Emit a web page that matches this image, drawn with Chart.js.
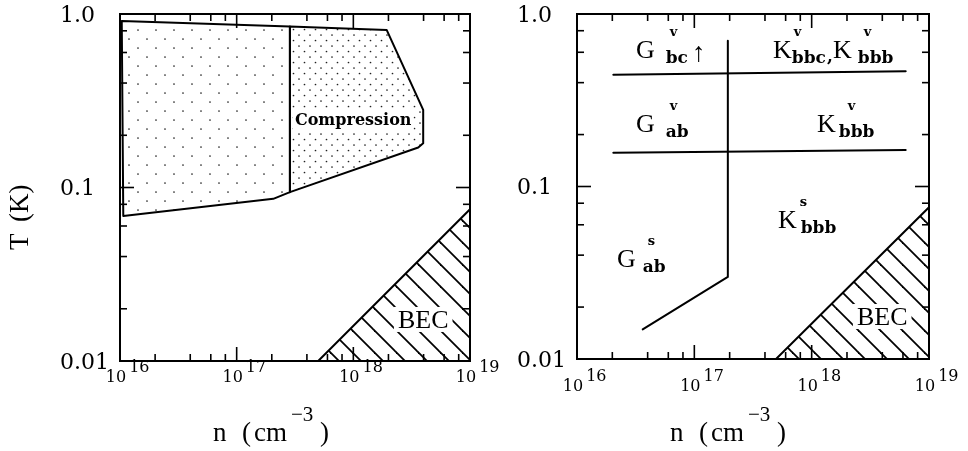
<!DOCTYPE html>
<html><head><meta charset="utf-8">
<script src="https://cdn.jsdelivr.net/npm/chart.js@4.4.1/dist/chart.umd.min.js"></script>
<style>
html,body{margin:0;padding:0;background:#fff;}
#wrap{position:relative;width:968px;height:451px;overflow:hidden;background:#fff;}
#c1{position:absolute;left:0;top:0;}
#c2{position:absolute;left:484px;top:0;}
</style></head><body>
<div id="wrap"><canvas id="c1" width="520" height="451"></canvas><canvas id="c2" width="484" height="451"></canvas></div>
<script>
// ---- axes / ticks ----
const xTickValues = [1e16, 1e17, 1e18, 1e19];
const xTickExponents = ['16', '17', '18', '19'];
const yTickValues = [1, 0.1, 0.01];
const yTickLabels = ['1.0', '0.1', '0.01'];
const minorSteps = [2, 4, 6, 8];

// ---- left panel regions (n, T) ----
const sparseRegion = [[1.035e16, 0.91], [2.86e17, 0.847], [2.86e17, 0.094], [2.06e17, 0.086], [1.067e16, 0.0685], [1.035e16, 0.91]];
const compressionRegion = [[2.86e17, 0.847], [1.93e18, 0.81], [3.97e18, 0.28], [3.97e18, 0.18], [3.6e18, 0.17], [2.86e17, 0.094], [2.86e17, 0.847]];
const becLeft = [[5.0e17, 0.01], [1e19, 0.0749], [1e19, 0.01], [5.0e17, 0.01]];

// ---- right panel boundaries (n, T) ----
const boundaryUpper = [[2.04e16, 0.445], [6.33e18, 0.466]];
const boundaryLower = [[2.04e16, 0.157], [6.33e18, 0.163]];
const boundarySplit = [[1.93e17, 0.70], [1.93e17, 0.0299], [3.63e16, 0.01486]];
const becRight = [[4.97e17, 0.01], [1e19, 0.0758], [1e19, 0.01], [4.97e17, 0.01]];

// ---- region labels (anchored in data coordinates) ----
const leftLabels = [
  {main: 'Compression', n: 3.16e17, T: 0.229, kind: 'bold', box: 2},
  {main: 'BEC', n: 2.41e18, T: 0.0155, box: 4}
];
const rightLabels = [
  {main: 'G', sup: 'v', sub: 'bc', n: 3.18e16, T: 0.556, subDx: 11, supDx: 15},
  {main: '\u2191', n: 9.55e16, T: 0.534, kind: 'arrow'},
  {main: 'K', sup: 'v', sub: 'bbc', n: 4.68e17, T: 0.556, subDx: 0, supDx: 2},
  {main: ',', n: 1.35e18, T: 0.527, kind: 'comma'},
  {main: 'K', sup: 'v', sub: 'bbb', n: 1.52e18, T: 0.556, subDx: 6, supDx: 12},
  {main: 'G', sup: 'v', sub: 'ab', n: 3.18e16, T: 0.207, subDx: 11, supDx: 15},
  {main: 'K', sup: 'v', sub: 'bbb', n: 1.11e18, T: 0.207, subDx: 3, supDx: 12},
  {main: 'G', sup: 's', sub: 'ab', n: 2.19e16, T: 0.0341, subDx: 7, supDx: 12},
  {main: 'K', sup: 's', sub: 'bbb', n: 5.16e17, T: 0.0575, subDx: 4, supDx: 3},
  {main: 'BEC', n: 2.43e18, T: 0.01574, box: 4}
];

const toXY = arr => arr.map(p => ({x: p[0], y: p[1]}));

function dotPattern(size, dots, r, color) {
  const c = document.createElement('canvas'); c.width = size; c.height = size;
  const g = c.getContext('2d'); g.fillStyle = color;
  dots.forEach(d => { g.beginPath(); g.arc(d[0], d[1], r, 0, Math.PI * 2); g.fill(); });
  return g.createPattern(c, 'repeat');
}
function hatchPattern(size, lw) {
  const c = document.createElement('canvas'); c.width = size; c.height = size;
  const g = c.getContext('2d'); g.strokeStyle = '#000'; g.lineWidth = lw;
  for (let k = -1; k <= 1; k++) {
    g.beginPath(); g.moveTo(k * size - 1, -1); g.lineTo(k * size + size + 1, size + 1); g.stroke();
  }
  return g.createPattern(c, 'repeat');
}
const sparseFill = dotPattern(18, [[3, 3], [12, 12]], 0.85, '#222');
const denseFill = dotPattern(11, [[2, 2], [7.5, 7.5]], 0.85, '#222');
const hatchFill = hatchPattern(22, 1.8);

const MAIN_FONT = '26px "Liberation Serif"';
const SUB_FONT = 'bold 17px "DejaVu Serif"';
const SUP_FONT = 'bold 13px "DejaVu Serif"';

function drawLabel(ctx, l, x, y) {
  ctx.fillStyle = '#000';
  ctx.textAlign = 'left'; ctx.textBaseline = 'alphabetic';
  let font = MAIN_FONT;
  if (l.kind === 'bold') font = 'bold 16px "DejaVu Serif"';
  if (l.kind === 'arrow') font = '27px "Liberation Serif"';
  if (l.kind === 'comma') font = SUB_FONT;
  ctx.font = font;
  const w = ctx.measureText(l.main).width;
  if (l.box) {
    const m = ctx.measureText(l.main);
    const asc = m.actualBoundingBoxAscent, desc = m.actualBoundingBoxDescent;
    ctx.fillStyle = '#fff';
    ctx.fillRect(x - l.box, y - asc - l.box, w + 2 * l.box, asc + desc + 2 * l.box);
    ctx.fillStyle = '#000';
  }
  ctx.fillText(l.main, x, y);
  if (l.sub) { ctx.font = SUB_FONT; ctx.fillText(l.sub, x + w + l.subDx, y + 5); }
  if (l.sup) { ctx.font = SUP_FONT; ctx.fillText(l.sup, x + w + l.supDx, y - 22); }
}

function decorPlugin(cfg) {
  return {
    id: 'decor',
    afterDatasetsDraw(chart) {
      const ctx = chart.ctx, a = chart.chartArea;
      const xs = chart.scales.x, ys = chart.scales.y;
      ctx.save();
      cfg.labels.forEach(l => drawLabel(ctx, l, xs.getPixelForValue(l.n), ys.getPixelForValue(l.T)));
      // frame
      ctx.strokeStyle = '#000'; ctx.lineWidth = 2;
      ctx.strokeRect(a.left, a.top, a.right - a.left, a.bottom - a.top);
      // ticks (inward, all four sides)
      const MAJ = 14, MIN = 7;
      ctx.lineWidth = 1.6;
      const seg = (x1, y1, x2, y2) => { ctx.beginPath(); ctx.moveTo(x1, y1); ctx.lineTo(x2, y2); ctx.stroke(); };
      const xMinor = [], yMinor = [];
      for (let i = 0; i < xTickValues.length - 1; i++) minorSteps.forEach(m => xMinor.push(xTickValues[i] * m));
      for (let i = 1; i < yTickValues.length; i++) minorSteps.forEach(m => yMinor.push(yTickValues[i] * m));
      const xt = (v, len) => { const x = xs.getPixelForValue(v); seg(x, a.bottom, x, a.bottom - len); seg(x, a.top, x, a.top + len); };
      const yt = (v, len) => { const y = ys.getPixelForValue(v); seg(a.left, y, a.left + len, y); seg(a.right, y, a.right - len, y); };
      xTickValues.forEach(v => xt(v, MAJ)); xMinor.forEach(v => xt(v, MIN));
      yTickValues.forEach(v => yt(v, MAJ)); yMinor.forEach(v => yt(v, MIN));
      // tick labels
      ctx.fillStyle = '#000';
      ctx.font = '22px "DejaVu Serif"'; ctx.textAlign = 'left'; ctx.textBaseline = 'middle';
      yTickValues.forEach((v, i) => ctx.fillText(yTickLabels[i], a.left - 60, ys.getPixelForValue(v) + 2));
      ctx.textBaseline = 'alphabetic';
      ctx.font = '16px "DejaVu Serif"';
      const w10 = ctx.measureText('10').width;
      xTickValues.forEach((v, i) => {
        const x = xs.getPixelForValue(v);
        ctx.fillText('10', x - 4 - w10 / 2, cfg.xLabelBase);
        ctx.fillText(xTickExponents[i], x - 4 + w10 / 2 + 3, cfg.xLabelBase - 10);
      });
      // x title: n (cm^-3)
      const tb = 441;
      ctx.font = '27px "Liberation Serif"';
      ctx.fillText('n', a.left + 93, tb);
      ctx.fillText('(', a.left + 122, tb);
      ctx.fillText('cm', a.left + 134, tb);
      ctx.fillText(')', a.left + 200, tb);
      ctx.font = '21px "Liberation Serif"';
      ctx.fillText('\u22123', a.left + 171, tb - 20);
      // y title
      if (cfg.yTitle) {
        ctx.save();
        ctx.translate(28, 250); ctx.rotate(-Math.PI / 2);
        ctx.font = '27px "Liberation Serif"';
        ctx.fillText('T', 0, 0);
        ctx.fillText('(K)', 28, 0);
        ctx.restore();
      }
      ctx.restore();
    }
  };
}

function ds(points, opts) {
  return Object.assign({data: toXY(points), borderColor: '#000', borderWidth: 2, pointRadius: 0,
    tension: 0, fill: false, borderJoinStyle: 'round', borderCapStyle: 'round'}, opts);
}

function makeChart(id, datasets, padding, cfg) {
  return new Chart(document.getElementById(id), {
    type: 'line',
    data: {datasets},
    options: {
      responsive: false, animation: false, events: [],
      layout: {padding},
      plugins: {legend: {display: false}, tooltip: {enabled: false}, title: {display: false}},
      scales: {
        x: {type: 'logarithmic', min: 1e16, max: 1e19, display: false},
        y: {type: 'logarithmic', min: 0.01, max: 1, display: false}
      }
    },
    plugins: [decorPlugin(cfg)]
  });
}

makeChart('c1', [
  ds(sparseRegion, {fill: 'shape', backgroundColor: sparseFill}),
  ds(compressionRegion, {fill: 'shape', backgroundColor: denseFill}),
  ds(becLeft, {fill: 'shape', backgroundColor: hatchFill})
], {left: 120, right: 50, top: 14, bottom: 90}, {labels: leftLabels, xLabelBase: 382, yTitle: true});

makeChart('c2', [
  ds(boundaryUpper, {}),
  ds(boundaryLower, {}),
  ds(boundarySplit, {}),
  ds(becRight, {fill: 'shape', backgroundColor: hatchFill})
], {left: 93, right: 39, top: 14, bottom: 92}, {labels: rightLabels, xLabelBase: 391, yTitle: false});
</script>
</body></html>
